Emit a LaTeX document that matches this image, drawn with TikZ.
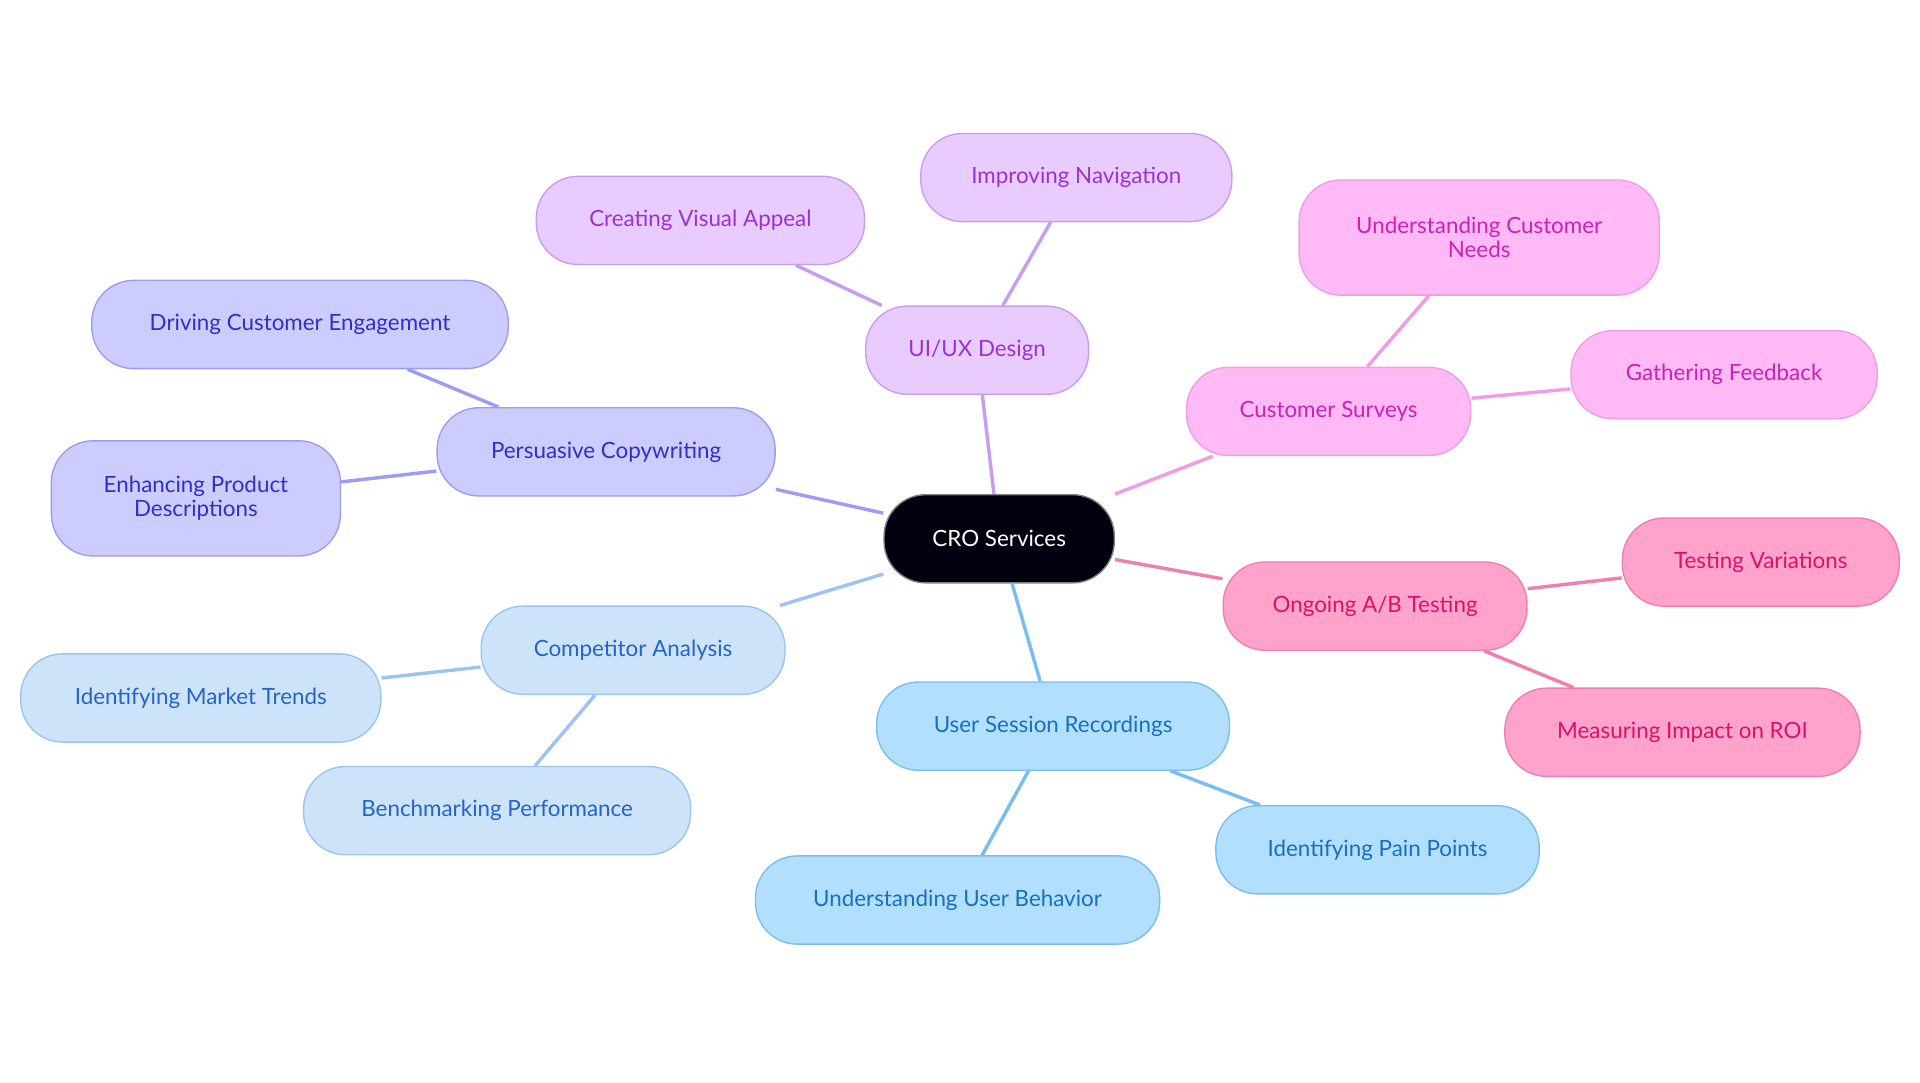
\documentclass[tikz,border=0pt]{standalone}
\usepackage{fontspec}
\setmainfont{Lato}
\usetikzlibrary{positioning}
\definecolor{cpfill}{HTML}{CCCCFF}\definecolor{cpdraw}{HTML}{9C9CF0}\definecolor{cptext}{HTML}{3030C8}
\definecolor{uxfill}{HTML}{E8CCFF}\definecolor{uxdraw}{HTML}{C89CF0}\definecolor{uxtext}{HTML}{9A32D2}
\definecolor{csfill}{HTML}{FFBAF6}\definecolor{csdraw}{HTML}{F09CE6}\definecolor{cstext}{HTML}{C822B8}
\definecolor{abfill}{HTML}{FFA3CC}\definecolor{abdraw}{HTML}{EE7FAE}\definecolor{abtext}{HTML}{D8126A}
\definecolor{urfill}{HTML}{B3DFFF}\definecolor{urdraw}{HTML}{78BEEE}\definecolor{urtext}{HTML}{1670C0}
\definecolor{cafill}{HTML}{CCE3FA}\definecolor{cadraw}{HTML}{9CC4EE}\definecolor{catext}{HTML}{2464C8}
\begin{document}
\begin{tikzpicture}[x=0.025cm, y=-0.025cm,
	box/.style={draw, rounded corners=0.85cm, minimum height=1.8cm, align=center, font=\fontsize{13}{14}\selectfont, line width=0.8pt},
	cp/.style={box, fill=cpfill, draw=cpdraw, text=cptext},
	ux/.style={box, fill=uxfill, draw=uxdraw, text=uxtext},
	cs/.style={box, fill=csfill, draw=csdraw, text=cstext},
	ab/.style={box, fill=abfill, draw=abdraw, text=abtext},
	ur/.style={box, fill=urfill, draw=urdraw, text=urtext},
	ca/.style={box, fill=cafill, draw=cadraw, text=catext},
	link/.style={line width=2pt}]
	\useasboundingbox (0,0) rectangle (1568,884);
	\node[box, fill=black!85!blue!40!black, draw=gray, text=white, minimum width=4.7cm] (cro) at (816,440) {CRO Services};
	\node[cp, minimum width=6.9cm] (copy) at (495,369) {Persuasive Copywriting};
	\node[cp, minimum width=8.5cm] (drive) at (245,265) {Driving Customer Engagement};
	\node[cp, minimum width=5.9cm, minimum height=2.35cm] (enh) at (160,407) {Enhancing Product\\Descriptions};
	\node[ux, minimum width=4.55cm] (uiux) at (798,286) {UI/UX Design};
	\node[ux, minimum width=6.7cm] (visual) at (572,180) {Creating Visual Appeal};
	\node[ux, minimum width=6.35cm] (nav) at (879,145) {Improving Navigation};
	\node[cs, minimum width=5.8cm] (survey) at (1085,336) {Customer Surveys};
	\node[cs, minimum width=7.35cm, minimum height=2.35cm] (needs) at (1208,194) {Understanding Customer\\Needs};
	\node[cs, minimum width=6.25cm] (feed) at (1408,306) {Gathering Feedback};
	\node[ab, minimum width=6.2cm] (abtest) at (1123,495) {Ongoing A/B Testing};
	\node[ab, minimum width=5.65cm] (vary) at (1438,459) {Testing Variations};
	\node[ab, minimum width=7.25cm] (roi) at (1374,598) {Measuring Impact on ROI};
	\node[ur, minimum width=7.2cm] (rec) at (860,593) {User Session Recordings};
	\node[ur, minimum width=6.6cm] (pain) at (1125,694) {Identifying Pain Points};
	\node[ur, minimum width=8.25cm] (behav) at (782,735) {Understanding User Behavior};
	\node[ca, minimum width=6.2cm] (comp) at (517,531) {Competitor Analysis};
	\node[ca, minimum width=7.35cm] (trend) at (164,570) {Identifying Market Trends};
	\node[ca, minimum width=7.9cm] (bench) at (406,662) {Benchmarking Performance};
	\begin{scope}[on background layer/.style={}]
	\end{scope}
	\draw[link, cpdraw] (cro) -- (copy) (copy) -- (drive) (copy) -- (enh);
	\draw[link, uxdraw] (cro) -- (uiux) (uiux) -- (visual) (uiux) -- (nav);
	\draw[link, csdraw] (cro) -- (survey) (survey) -- (needs) (survey) -- (feed);
	\draw[link, abdraw] (cro) -- (abtest) (abtest) -- (vary) (abtest) -- (roi);
	\draw[link, urdraw] (cro) -- (rec) (rec) -- (pain) (rec) -- (behav);
	\draw[link, cadraw] (cro) -- (comp) (comp) -- (trend) (comp) -- (bench);
\end{tikzpicture}
\end{document}
